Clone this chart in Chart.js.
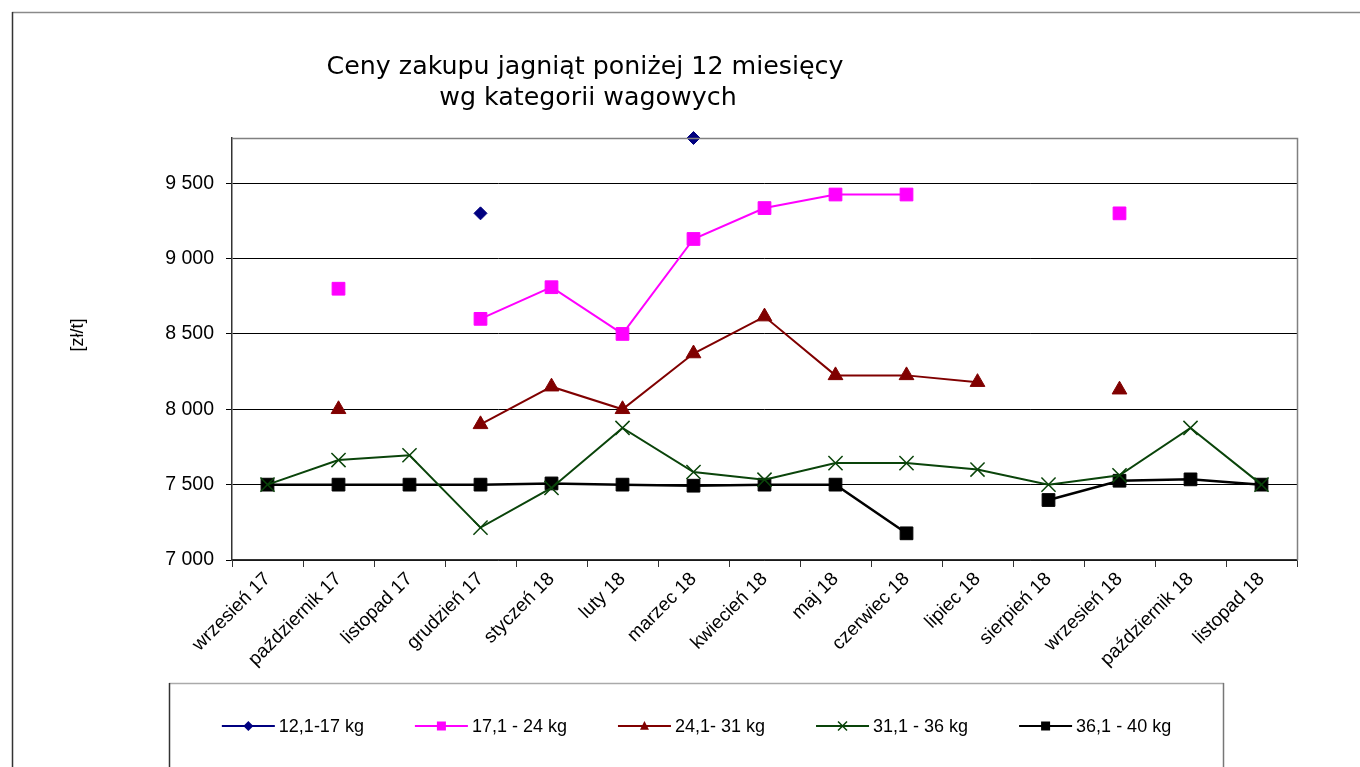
<!DOCTYPE html>
<html><head><meta charset="utf-8">
<script src="https://cdn.jsdelivr.net/npm/chart.js@4.4.0/dist/chart.umd.min.js"></script>
<style>html,body{margin:0;padding:0;background:#fff;}#wrap{position:relative;width:1360px;height:767px;overflow:hidden;}</style>
</head><body><div id="wrap"><canvas id="c" width="1360" height="767"></canvas></div>
<script>
const titleLines = ['Ceny zakupu jagniąt poniżej 12 miesięcy', 'wg kategorii wagowych'];
const yAxisTitle = '[zł/t]';
const months = ['wrzesień 17','październik 17','listopad 17','grudzień 17','styczeń 18','luty 18','marzec 18','kwiecień 18','maj 18','czerwiec 18','lipiec 18','sierpień 18','wrzesień 18','październik 18','listopad 18'];
const seriesNames = ['12,1-17 kg','17,1 - 24 kg','24,1- 31 kg','31,1 - 36 kg','36,1 - 40 kg'];
const w12_17 = [null,null,null,9300,null,null,9800,null,null,null,null,null,null,null,null];
const w17_24 = [null,8800,null,8600,8810,8500,9130,9335,9425,9425,null,null,9300,null,null];
const w24_31 = [null,8000,null,7900,8150,8000,8370,8615,8225,8225,8180,null,8130,null,null];
const w31_36 = [7500,7663,7695,7215,7478,7876,7584,7533,7643,7643,7600,7500,7562,7876,7500];
const w36_40 = [7500,7500,7500,7500,7508,7500,7493,7500,7500,7177,null,7398,7526,7535,7500];
const yTicks = [7000,7500,8000,8500,9000,9500];
const yMin = 7000, yMax = 9800;

const FONT = "'Liberation Sans', Arial, sans-serif";

function mk(label, data, color, style, radius, bw, pbw) {
  return {label, data, borderColor: color, backgroundColor: color, pointStyle: style,
    pointRadius: radius, pointHoverRadius: radius, pointBorderColor: color, pointBackgroundColor: color,
    borderWidth: bw, pointBorderWidth: pbw, spanGaps: false, tension: 0, clip: false};
}
const datasets = [
  mk(seriesNames[0], w12_17, '#000080', 'rectRot', 6.5, 2, 1),
  mk(seriesNames[1], w17_24, '#FF00FF', 'rect', 9, 2, 1),
  mk(seriesNames[2], w24_31, '#800000', 'triangle', 8.5, 2, 1),
  mk(seriesNames[3], w31_36, '#0a440a', 'crossRot', 10, 2, 1.5),
  mk(seriesNames[4], w36_40, '#000000', 'rect', 9, 2.5, 1)
];

function fmt(v){ return String(v).replace(/\B(?=(\d{3})+(?!\d))/g, ' '); }

function drawMarker(ctx, style, x, y, r, color, lw) {
  ctx.save();
  ctx.fillStyle = color; ctx.strokeStyle = color; ctx.lineWidth = lw;
  ctx.beginPath();
  if (style === 'rectRot') {
    ctx.moveTo(x, y - r); ctx.lineTo(x + r, y); ctx.lineTo(x, y + r); ctx.lineTo(x - r, y); ctx.closePath(); ctx.fill();
  } else if (style === 'rect') {
    ctx.rect(x - r, y - r, 2 * r, 2 * r); ctx.fill();
  } else if (style === 'triangle') {
    ctx.moveTo(x, y - r); ctx.lineTo(x + r * 0.9, y + r * 0.75); ctx.lineTo(x - r * 0.9, y + r * 0.75); ctx.closePath(); ctx.fill();
  } else if (style === 'crossRot') {
    ctx.moveTo(x - r, y - r); ctx.lineTo(x + r, y + r); ctx.moveTo(x + r, y - r); ctx.lineTo(x - r, y + r); ctx.stroke();
  }
  ctx.restore();
}

const decor = {
  id: 'decor',
  afterDraw(chart) {
    const ctx = chart.ctx; const a = chart.chartArea;
    ctx.save();
    // outer frame
    ctx.lineWidth = 1.5;
    ctx.strokeStyle = '#8a8a8a';
    ctx.beginPath(); ctx.moveTo(12, 12.5); ctx.lineTo(1360, 12.5); ctx.stroke();
    ctx.strokeStyle = '#333';
    ctx.beginPath(); ctx.moveTo(12.5, 12); ctx.lineTo(12.5, 767); ctx.stroke();
    // plot frame top/right
    ctx.lineWidth = 1.5; ctx.strokeStyle = '#808080';
    ctx.beginPath(); ctx.moveTo(a.left, a.top + 0.5); ctx.lineTo(a.right + 0.5, a.top + 0.5); ctx.lineTo(a.right + 0.5, a.bottom); ctx.stroke();
    // title
    ctx.fillStyle = '#000'; ctx.textAlign = 'center'; ctx.textBaseline = 'middle';
    ctx.font = "24px 'DejaVu Sans', sans-serif";
    const w = ctx.measureText(titleLines[0]).width;
    const size = 24 * 517 / w;
    ctx.font = size.toFixed(2) + "px 'DejaVu Sans', sans-serif";
    ctx.fillText(titleLines[0], 585, 67);
    ctx.fillText(titleLines[1], 588, 98);
    // y axis title
    ctx.save();
    ctx.translate(78, 335); ctx.rotate(-Math.PI / 2);
    ctx.font = '18px ' + FONT; ctx.fillText(yAxisTitle, 0, 0);
    ctx.restore();
    // legend box
    ctx.lineWidth = 1.5;
    ctx.strokeStyle = '#aaa';
    ctx.beginPath(); ctx.moveTo(169, 683.5); ctx.lineTo(1224, 683.5); ctx.stroke();
    ctx.strokeStyle = '#333';
    ctx.beginPath(); ctx.moveTo(169.5, 683); ctx.lineTo(169.5, 767); ctx.stroke();
    ctx.strokeStyle = '#777';
    ctx.beginPath(); ctx.moveTo(1223.5, 683); ctx.lineTo(1223.5, 767); ctx.stroke();
    // legend items
    ctx.font = '18px ' + FONT; ctx.textAlign = 'left';
    const lineLen = 53, gapT = 4, gapI = 51;
    const widths = chart.data.datasets.map(d => lineLen + gapT + ctx.measureText(d.label).width);
    const total = widths.reduce((s, v) => s + v, 0) + gapI * (widths.length - 1);
    let x = (169 + 1224) / 2 - total / 2; const y = 726;
    chart.data.datasets.forEach((d, i) => {
      ctx.strokeStyle = d.borderColor; ctx.lineWidth = 2;
      ctx.beginPath(); ctx.moveTo(x, y); ctx.lineTo(x + lineLen, y); ctx.stroke();
      const mr = d.pointStyle === 'crossRot' ? 4.5 : (d.pointStyle === 'rect' ? 4.5 : 5);
      drawMarker(ctx, d.pointStyle, x + lineLen / 2, y, mr, d.borderColor, 1.5);
      ctx.fillStyle = '#000';
      ctx.fillText(d.label, x + lineLen + gapT, y + 1);
      x += widths[i] + gapI;
    });
    ctx.restore();
  }
};

new Chart(document.getElementById('c'), {
  type: 'line',
  data: { labels: months, datasets },
  plugins: [decor],
  options: {
    responsive: false, animation: false, devicePixelRatio: 1,
    layout: { padding: { left: 90, top: 138, right: 63, bottom: 97 } },
    plugins: { legend: { display: false }, title: { display: false }, tooltip: { enabled: false } },
    scales: {
      x: {
        type: 'category', offset: true,
        grid: { offset: true, drawOnChartArea: false, tickLength: 7, color: '#333', lineWidth: 1 },
        border: { color: '#333', width: 1.5 },
        ticks: { maxRotation: 45, minRotation: 45, autoSkip: false, color: '#000', padding: 1, font: { family: FONT, size: 19 } },
        afterFit(s) { s.height = 110; }
      },
      y: {
        min: yMin, max: yMax,
        afterBuildTicks(s) { s.ticks = yTicks.map(v => ({ value: v })); },
        grid: { color: '#000', lineWidth: 1, tickLength: 6, drawOnChartArea: true },
        border: { color: '#333', width: 1.5 },
        ticks: { color: '#000', padding: 12, font: { family: FONT, size: 19.5 }, callback: v => fmt(v) },
        afterFit(s) { s.width = 142; }
      }
    }
  }
});
</script></body></html>
